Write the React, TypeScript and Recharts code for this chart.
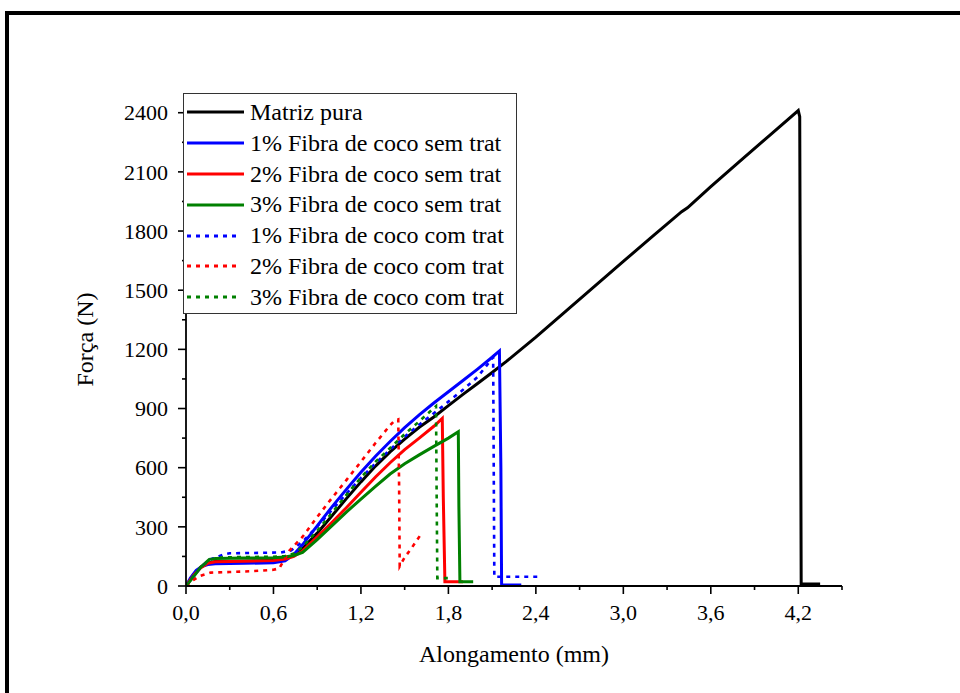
import { LineChart, Line, XAxis, YAxis } from "recharts"

const FONT = '"Liberation Serif", "Times New Roman", serif'

// [alongamento (mm), força (N)]
const matrizPura = [
  [0, 0], [0.05, 55], [0.1, 95], [0.15, 116], [0.2, 124], [0.3, 126], [0.45, 127], [0.6, 130],
  [0.68, 138], [0.74, 155], [0.8, 190], [0.9, 268], [1.0, 355], [1.1, 443], [1.2, 528], [1.3, 608],
  [1.4, 680], [1.5, 745], [1.6, 805], [1.7, 857], [1.8, 915], [1.9, 972], [2.0, 1027], [2.1, 1083],
  [2.2, 1140], [2.4, 1262], [2.6, 1390], [2.8, 1518], [3.0, 1646], [3.2, 1773], [3.4, 1898],
  [3.44, 1918], [3.47, 1938], [3.6, 2025], [3.8, 2155], [4.0, 2283], [4.2, 2411], [4.21, 2380],
  [4.22, 10], [4.35, 10],
]

const fibra1Sem = [
  [0, 0], [0.03, 40], [0.07, 80], [0.11, 100], [0.15, 109], [0.2, 113], [0.4, 115], [0.6, 118],
  [0.68, 128], [0.74, 160], [0.8, 210], [0.9, 305], [1.0, 400], [1.1, 490], [1.2, 577], [1.3, 658],
  [1.4, 733], [1.5, 803], [1.6, 868], [1.7, 928], [1.8, 985], [1.9, 1042], [2.0, 1100], [2.1, 1160],
  [2.15, 1192], [2.16, 600], [2.165, 5], [2.3, 5],
]

const fibra2Sem = [
  [0, 0], [0.05, 52], [0.1, 92], [0.15, 115], [0.2, 123], [0.4, 126], [0.6, 129], [0.68, 137],
  [0.74, 150], [0.8, 178], [0.9, 250], [1.0, 322], [1.1, 397], [1.2, 475], [1.3, 553], [1.4, 625],
  [1.5, 692], [1.6, 750], [1.7, 810], [1.758, 850], [1.765, 450], [1.776, 22], [1.9, 22],
]

const fibra3Sem = [
  [0, 0], [0.05, 45], [0.1, 95], [0.16, 135], [0.2, 140], [0.4, 142], [0.6, 143], [0.68, 147],
  [0.74, 155], [0.8, 170], [0.9, 235], [1.0, 305], [1.1, 375], [1.2, 440], [1.3, 505], [1.4, 568],
  [1.5, 620], [1.6, 665], [1.7, 708], [1.8, 750], [1.868, 782], [1.872, 400], [1.879, 22], [1.97, 22],
]

const fibra1Com = [
  [0, 0], [0.05, 50], [0.1, 95], [0.17, 135], [0.25, 158], [0.3, 166], [0.5, 168], [0.65, 170],
  [0.72, 180], [0.8, 225], [0.9, 302], [1.0, 385], [1.1, 468], [1.2, 548], [1.3, 622], [1.4, 692],
  [1.5, 757], [1.6, 818], [1.7, 876], [1.8, 935], [1.9, 995], [2.0, 1060], [2.107, 1160],
  [2.111, 600], [2.115, 47], [2.415, 47],
]

const fibra2Com = [
  [0, 0], [0.05, 30], [0.1, 52], [0.17, 68], [0.3, 71], [0.45, 75], [0.6, 82], [0.64, 90],
  [0.71, 180], [0.8, 250], [0.9, 350], [1.0, 445], [1.1, 537], [1.2, 630], [1.3, 725], [1.4, 815],
  [1.43, 838], [1.456, 845], [1.462, 500], [1.466, 100], [1.5, 145], [1.55, 195], [1.605, 255],
]

const fibra3Com = [
  [0, 0], [0.05, 50], [0.1, 95], [0.17, 135], [0.25, 145], [0.4, 147], [0.6, 148], [0.68, 152],
  [0.74, 165], [0.8, 198], [0.9, 280], [1.0, 370], [1.1, 462], [1.2, 550], [1.3, 630], [1.4, 700],
  [1.5, 770], [1.6, 835], [1.715, 912], [1.719, 500], [1.724, 40], [1.83, 40],
]

const xTicks = [0, 0.3, 0.6, 0.9, 1.2, 1.5, 1.8, 2.1, 2.4, 2.7, 3.0, 3.3, 3.6, 3.9, 4.2, 4.5]
const yTicks = [0, 150, 300, 450, 600, 750, 900, 1050, 1200, 1350, 1500, 1650, 1800, 1950, 2100, 2250, 2400]

const series = [
  { name: "Matriz pura", data: matrizPura, color: "#000000", dotted: false },
  { name: "1% Fibra de coco sem trat", data: fibra1Sem, color: "#0000ff", dotted: false },
  { name: "2% Fibra de coco sem trat", data: fibra2Sem, color: "#ff0000", dotted: false },
  { name: "3% Fibra de coco sem trat", data: fibra3Sem, color: "#008000", dotted: false },
  { name: "1% Fibra de coco com trat", data: fibra1Com, color: "#0000ff", dotted: true },
  { name: "2% Fibra de coco com trat", data: fibra2Com, color: "#ff0000", dotted: true },
  { name: "3% Fibra de coco com trat", data: fibra3Com, color: "#008000", dotted: true },
]

const DASH = "4 5"

function XTick(props: any) {
  const { x, y, payload } = props
  const major = Math.round(payload.value / 0.3) % 2 === 0
  const axisY = y - 12
  return (
    <g>
      <line x1={x} x2={x} y1={axisY} y2={axisY + (major ? 8 : 4)} stroke="#000" strokeWidth={1.6} />
      {major && (
        <text x={x} y={axisY + 34} textAnchor="middle" fontSize={22} fontFamily={FONT} fill="#000">
          {payload.value.toFixed(1).replace(".", ",")}
        </text>
      )}
    </g>
  )
}

function YTick(props: any) {
  const { x, y, payload } = props
  const major = Math.round(payload.value / 150) % 2 === 0
  const axisX = x + 12
  return (
    <g>
      <line x1={axisX - (major ? 8 : 4)} x2={axisX} y1={y} y2={y} stroke="#000" strokeWidth={1.6} />
      {major && (
        <text x={axisX - 18} y={y} dy="0.35em" textAnchor="end" fontSize={22} fontFamily={FONT} fill="#000">
          {payload.value}
        </text>
      )}
    </g>
  )
}

function LegendBox() {
  return (
    <div
      style={{
        position: "absolute",
        left: 183,
        top: 93,
        width: 334,
        paddingTop: 3,
        background: "#fff",
        border: "1px solid #333",
        boxSizing: "border-box",
        fontFamily: FONT,
        fontSize: 24,
        color: "#000",
      }}
    >
      {series.map((s) => (
        <div key={s.name} style={{ display: "flex", alignItems: "center", height: 30.8 }}>
          <svg width={66} height={12} style={{ flex: "none" }}>
            <line
              x1={3}
              x2={s.dotted ? 55 : 60}
              y1={6}
              y2={6}
              stroke={s.color}
              strokeWidth={3}
              strokeDasharray={s.dotted ? DASH : undefined}
            />
          </svg>
          <span style={{ whiteSpace: "nowrap", lineHeight: "30.8px" }}>{s.name}</span>
        </div>
      ))}
    </div>
  )
}

export default function App() {
  return (
    <div
      style={{
        position: "fixed",
        left: 0,
        top: 0,
        width: 960,
        height: 693,
        overflow: "hidden",
        background: "#fff",
      }}
    >
      <div
        style={{
          position: "absolute",
          left: 5,
          top: 11,
          width: 2000,
          height: 2000,
          border: "4px solid #000",
        }}
      />
      <div style={{ position: "absolute", left: 0, top: 0 }}>
        <LineChart width={960} height={693} margin={{ top: 93, right: 118, bottom: 27, left: 86 }}>
          <XAxis
            dataKey="x"
            type="number"
            domain={[0, 4.5]}
            ticks={xTicks}
            interval={0}
            height={80}
            tickSize={8}
            tickMargin={4}
            tickLine={false}
            tick={<XTick />}
            axisLine={{ stroke: "#000", strokeWidth: 1.8 }}
            allowDataOverflow
            label={{
              value: "Alongamento (mm)",
              position: "insideBottom",
              offset: 4,
              style: { fontSize: 24, fontFamily: FONT, fill: "#000" },
            }}
          />
          <XAxis
            xAxisId="top"
            orientation="top"
            type="number"
            domain={[0, 4.5]}
            height={0}
            tick={false}
            tickLine={false}
            axisLine={{ stroke: "#000", strokeWidth: 1.8 }}
          />
          <YAxis
            type="number"
            domain={[0, 2500]}
            ticks={yTicks}
            interval={0}
            width={100}
            tickSize={8}
            tickMargin={4}
            tickLine={false}
            tick={<YTick />}
            axisLine={{ stroke: "#000", strokeWidth: 1.8 }}
            allowDataOverflow
            label={{
              value: "Força (N)",
              angle: -90,
              position: "insideLeft",
              offset: -2,
              style: { textAnchor: "middle", fontSize: 24, fontFamily: FONT, fill: "#000" },
            }}
          />
          <YAxis
            yAxisId="right"
            orientation="right"
            type="number"
            domain={[0, 2500]}
            width={0}
            tick={false}
            tickLine={false}
            axisLine={{ stroke: "#000", strokeWidth: 1.8 }}
          />
          {series.map((s) => (
            <Line
              key={s.name}
              data={s.data.map(([x, y]) => ({ x, y }))}
              dataKey="y"
              name={s.name}
              type="linear"
              stroke={s.color}
              strokeWidth={s.dotted ? 2.6 : 3}
              strokeDasharray={s.dotted ? DASH : undefined}
              dot={false}
              activeDot={false}
              isAnimationActive={false}
            />
          ))}
        </LineChart>
      </div>
      <LegendBox />
    </div>
  )
}
